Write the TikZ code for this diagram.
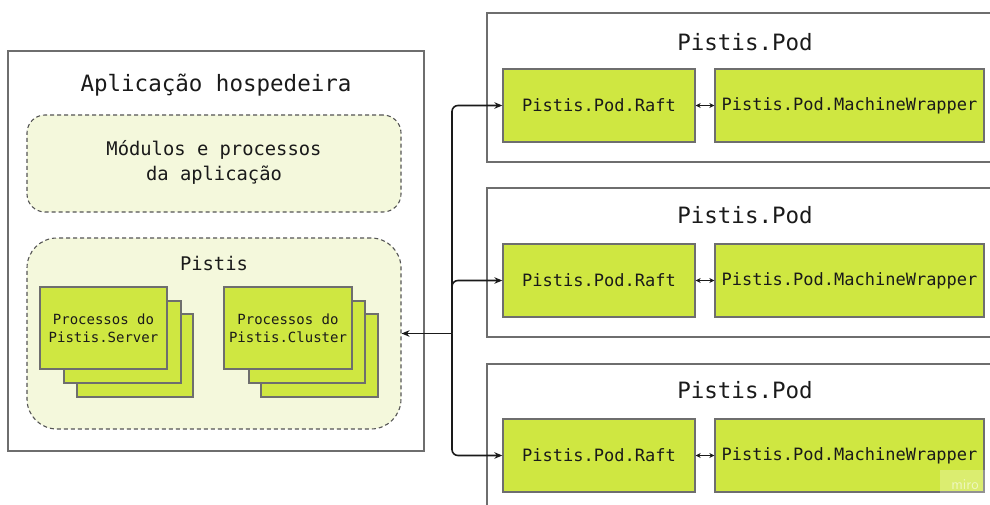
\documentclass[tikz,border=0pt]{standalone}
\usepackage{fontspec}
\setmonofont{DejaVu Sans Mono}
\usetikzlibrary{arrows.meta}
\definecolor{lime}{HTML}{CFE741}
\definecolor{pale}{HTML}{F4F8DC}
\definecolor{edgegray}{HTML}{6E6E6E}
\definecolor{dashgray}{HTML}{555555}
\definecolor{ink}{HTML}{1A1A1A}
\tikzset{
  frame/.style={draw=edgegray, line width=1.3pt, fill=white, inner sep=0pt},
  group/.style={draw=dashgray, dash pattern=on 4pt off 3pt, line width=1.1pt, fill=pale, inner sep=0pt},
  comp/.style={draw=edgegray, line width=1.3pt, fill=lime, inner sep=0pt, align=center, text=ink},
  bigtitle/.style={font=\ttfamily\fontsize{22.5}{26}\selectfont, text=ink, inner sep=0pt},
  midtext/.style={font=\ttfamily\fontsize{18.8}{25}\selectfont, text=ink, align=center, inner sep=0pt},
  podtext/.style={font=\ttfamily\fontsize{17}{20}\selectfont},
  proctext/.style={font=\ttfamily\fontsize{14}{18}\selectfont},
  link/.style={draw=ink, line width=1.6pt, rounded corners=6pt, -{Stealth[length=8pt,width=6.5pt]}},
  pair/.style={draw=ink, line width=1.2pt, {Stealth[length=5pt,width=5pt]}-{Stealth[length=5pt,width=5pt]}}
}
\begin{document}
\begin{tikzpicture}[x=1pt, y=-1pt]
  \useasboundingbox (0,0) rectangle (990,505);
  \fill[white] (0,0) rectangle (990,505);
  \clip (0,0) rectangle (990,505);

  % host application
  \node[frame, minimum width=416pt, minimum height=400pt] (host) at (216,251) {};
  \node[bigtitle] (hosttitle) at (216,85) {Aplicação hospedeira};
  \node[group, rounded corners=18pt, minimum width=374pt, minimum height=97pt] (mods) at (214,163.5) {};
  \node[midtext] (modstext) at (214,162.5) {Módulos e processos\\da aplicação};
  \node[group, rounded corners=30pt, minimum width=374pt, minimum height=191pt] (pistis) at (214,333.5) {};
  \node[midtext] (pististitle) at (214,263) {Pistis};

  % Pistis.Server process stack
  \node[comp, minimum width=116pt, minimum height=83pt] (srv3) at (135,355.5) {};
  \node[comp, minimum width=117pt, minimum height=82pt] (srv2) at (122.5,342) {};
  \node[comp, proctext, minimum width=127pt, minimum height=82pt] (srv1) at (103.5,328) {Processos do\\Pistis.Server};

  % Pistis.Cluster process stack
  \node[comp, minimum width=117pt, minimum height=83pt] (cls3) at (319.5,355.5) {};
  \node[comp, minimum width=116pt, minimum height=82pt] (cls2) at (307,342) {};
  \node[comp, proctext, minimum width=128pt, minimum height=82pt] (cls1) at (288,328) {Processos do\\Pistis.Cluster};

  % pods
  \foreach \i/\cy/\ty/\ry in {1/87.5/42/105.5, 2/262.5/215/280.5, 3/438.5/390/455.5} {
    \node[frame, minimum width=523pt, minimum height=149pt] (pod\i) at (748.5,\cy) {};
    \node[bigtitle] (podtitle\i) at (745,\ty) {Pistis.Pod};
    \node[comp, podtext, minimum width=192pt, minimum height=73pt] (raft\i) at (599,\ry) {Pistis.Pod.Raft};
    \node[comp, podtext, minimum width=269pt, minimum height=73pt] (wrap\i) at (849.5,\ry) {Pistis.Pod.MachineWrapper};
    \draw[pair] (raft\i.east) -- (wrap\i.west);
  }

  % links between the host and the pods
  \coordinate (hub) at (452,333.5);
  \draw[link] (hub) -- (pistis.east);
  \draw[link] (hub) |- (raft1.west);
  \draw[link] (hub) |- (raft2.west);
  \draw[link] (hub) |- (raft3.west);

  % watermark
  \fill[white, opacity=0.25] (940,470) rectangle (986,500);
  \node[font=\sffamily\fontsize{15}{18}\selectfont, text=white, opacity=0.55, inner sep=0pt] (mark) at (965,485) {miro};
\end{tikzpicture}
\end{document}
